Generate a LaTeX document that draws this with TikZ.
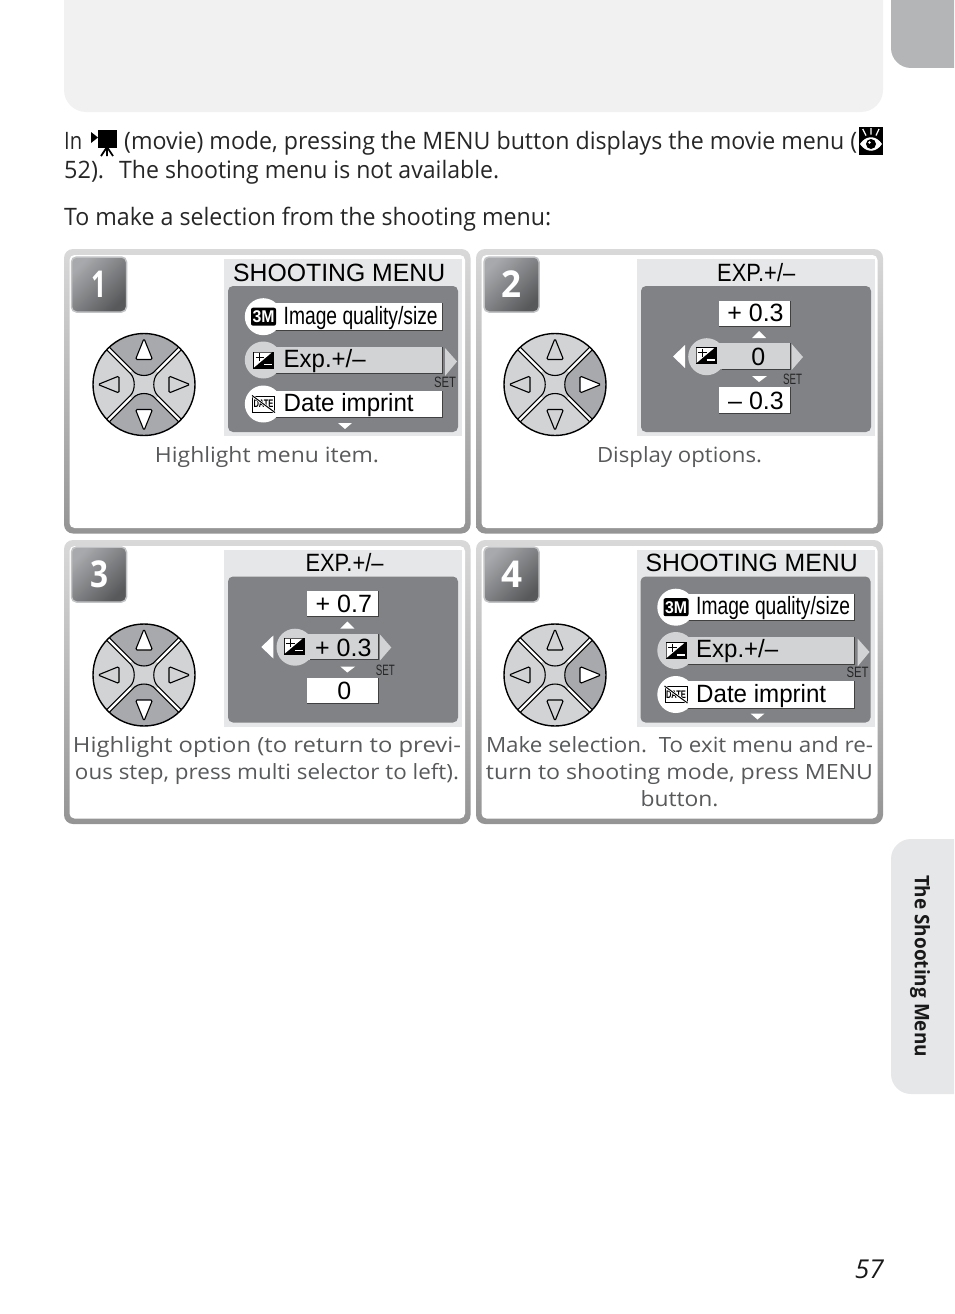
\documentclass[tikz,border=0pt]{standalone}
\usepackage{fontspec}
\setmainfont{Open Sans}
\newfontfamily\menufont{Liberation Sans}
\usetikzlibrary{positioning}

\definecolor{pagegrey}{HTML}{F1F1F2}
\definecolor{tabdark}{HTML}{B3B5B7}
\definecolor{tablight}{HTML}{E6E7E8}
\definecolor{screendark}{HTML}{808285}
\definecolor{barlight}{HTML}{D1D3D4}
\definecolor{btndark}{HTML}{A7A9AC}
\definecolor{captiongrey}{HTML}{58595B}

% width given in px, natural height kept
\newcommand{\fitw}[2]{\resizebox{#1pt}{\height}{#2}}

\tikzset{
    bodytext/.style={inner sep=0pt, anchor=base west, text=black!85, font=\fontsize{24}{28}\selectfont},
    captext/.style={inner sep=0pt, anchor=base, text=captiongrey, font=\fontsize{21}{26}\selectfont},
    menutext/.style={inner sep=0pt, anchor=base west, text=black, font=\menufont\fontsize{25}{28}\selectfont},
    valtext/.style={inner sep=0pt, anchor=base, text=black, font=\menufont\fontsize{25}{28}\selectfont},
    settext/.style={inner sep=0pt, anchor=base, text=black!85, font=\menufont\fontsize{15}{16}\selectfont},
    numbox/.style={rectangle, rounded corners=5pt, draw=btndark!70, line width=1.5pt, minimum size=55pt, inner sep=0pt,
        shading=axis, top color=btndark, bottom color=captiongrey, shading angle=45,
        text=white, font=\fontsize{37}{40}\selectfont\bfseries},
    btnline/.style={draw=black, line width=1.1pt},
    btnhi/.style={fill=btndark},
    btnlo/.style={fill=barlight},
    trihi/.style={fill=white},
    trilo/.style={fill=barlight},
    rowwhite/.style={fill=white},
    rowgrey/.style={fill=barlight},
    shadowline/.style={draw=black!75, line width=.8pt},
}

\newcommand{\panelframe}[4]{
    \shade[top color=black!15, bottom color=black!42, rounded corners=9pt] (#1,#2) rectangle (#3,#4);
    \fill[white, rounded corners=5pt] (#1+5.5,#2+6) rectangle (#3-5.5,#4-5.5);
}

\newcommand{\dpad}[7]{
    \begin{scope}[shift={(#2,#3)}]
        \fill[barlight] (0,0) circle[radius=51pt];
        \begin{scope}
            \clip (0,0) circle[radius=51pt];
            \draw[white, line width=3.4pt] (-13,-13) -- (-50,-50) (13,-13) -- (50,-50) (-13,13) -- (-50,50) (13,13) -- (50,50);
            \foreach \ang/\st/\dep in {0/#4/7.5,90/#5/8.5,180/#6/7.5,270/#7/8.5} {
                \begin{scope}[rotate=\ang]
                    \path[btnline, btn\st] (-50,-52.6) -- (-11,-13.6) .. controls (-6,-\dep) and (6,-\dep) .. (11,-13.6) -- (50,-52.6) -- (0,-90) -- cycle;
                    \path[btnline, tri\st, rounded corners=1.5pt] (0,-46) -- (-8.5,-25) -- (8.5,-25) -- cycle;
                \end{scope}
            }
        \end{scope}
        \draw[black, line width=1.4pt] (0,0) circle[radius=51pt];
    \end{scope}
}

\newcommand{\expicon}[2]{
    \begin{scope}[shift={(#1,#2)}]
        \fill[black] (-10.5,-8.5) rectangle (10.5,8.5);
        \fill[white] (-9.4,-7.4) -- (8.2,-7.4) -- (-9.4,7.4) -- cycle;
        \draw[black, line width=1.4pt] (-8,-2.8) -- (0.5,-2.8) (-3.75,-6.8) -- (-3.75,1.2);
        \draw[white, line width=1.6pt] (0.5,4.6) -- (8.5,4.6);
    \end{scope}
}

\newcommand{\screenbg}[2]{
    \fill[tablight] (#1,#2) rectangle (#1+238,#2+177);
    \fill[screendark, rounded corners=5pt] (#1+4,#2+27) rectangle (#1+234,#2+173);
}

\newcommand{\menurow}[3]{
    \fill[#2] (39,#1-13.5) rectangle (218,#1+13.5);
    \draw[shadowline] (39,#1+13.5) -- (218,#1+13.5) -- (218,#1-13.5);
    \fill[#2] (39.3,#3) circle[radius=18.5pt];
}

\newcommand{\menuscr}[3]{
    \screenbg{#2}{#3}
    \begin{scope}[shift={(#2,#3)}]
        \node[menutext] (title#1) at (9,22) {\fitw{212}{SHOOTING MENU}};
        \menurow{57.5}{rowwhite}{57.7}
        \menurow{101}{rowgrey}{101}
        \menurow{145}{rowwhite}{145}
        \node[fill=black, rounded corners=2pt, minimum width=25pt, minimum height=18pt, inner sep=0pt, text=white,
            font=\menufont\bfseries\fontsize{17}{18}\selectfont] (qual#1) at (39.5,57.7) {\fitw{22}{3M}};
        \expicon{39.5}{101}
        \node[draw=black, fill=white, line width=1pt, minimum width=22pt, minimum height=16pt, inner sep=0pt,
            font=\menufont\bfseries\fontsize{11}{11}\selectfont] (date#1) at (39.5,145) {\fitw{20}{DATE}};
        \draw[white, line width=2.4pt] (date#1.north west) -- (date#1.south east);
        \draw[black, line width=1pt] (date#1.north west) -- (date#1.south east);
        \node[menutext] (item#1a) at (59.5,65) {\fitw{154}{Image quality/size}};
        \node[menutext] (item#1b) at (59.5,108) {\fitw{82}{Exp.+/–}};
        \node[menutext] (item#1c) at (59.5,152.7) {\fitw{130}{Date imprint}};
        \fill[barlight] (221,89) -- (221,117) -- (233,102.5) -- cycle;
        \node[settext] (set#1) at (221,128) {\fitw{22}{SET}};
        \fill[white] (114,164) -- (128,164) -- (121,170) -- cycle;
    \end{scope}
}

\newcommand{\expscr}[8]{
    \begin{scope}[shift={(#2,#3)}]
        \node[menutext] (title#1) at (80,22) {\fitw{78}{EXP.+/–}};
        \fill[white] (82,41.7) rectangle (153,67);
        \draw[shadowline] (82,67) -- (153,67) -- (153,41.7);
        \node[valtext] (upper#1) at (118.5,62.5) {#4};
        \fill[white] (115,79) -- (129,79) -- (122,72) -- cycle;
        \fill[barlight] (69.7,97.7) circle[radius=18.5pt];
        \fill[barlight] (70,84) rectangle (153,110);
        \draw[shadowline] (85,110) -- (153,110) -- (153,84);
        \expicon{69}{96.5}
        \node[valtext] (mid#1) at (#6,106.5) {#5};
        \fill[white] (36,97.5) -- (48,86) -- (48,109) -- cycle;
        \fill[barlight] (154.7,85) -- (154.7,111) -- (166,98) -- cycle;
        \node[settext] (set#1) at (#8,125.5) {\fitw{19}{SET}};
        \fill[white] (115,117) -- (130,117) -- (122,123) -- cycle;
        \fill[white] (82,128.3) rectangle (153,154.3);
        \draw[shadowline] (82,154.3) -- (153,154.3) -- (153,128.3);
        \node[valtext] (lower#1) at (119,150) {#7};
    \end{scope}
}

\begin{document}
\begin{tikzpicture}[x=1pt, y=-1pt]
    \useasboundingbox (0,0) rectangle (954,1314);

    % page decoration
    \fill[pagegrey] (64,0) [rounded corners=22pt] -- (64,112) -- (883,112) [sharp corners] -- (883,0) -- cycle;
    \fill[tabdark] (891,0) [rounded corners=20pt] -- (891,68) [sharp corners] -- (954,68) -- (954,0) -- cycle;
    \fill[tablight] (954,839) [rounded corners=20pt] -- (891,839) -- (891,1094) [sharp corners] -- (954,1094) -- cycle;
    \node[inner sep=0pt, rotate=-90, text=black!90, font=\fontsize{20}{24}\selectfont\bfseries] (tabtext) at (920,966) {\fitw{182}{The Shooting Menu}};
    \node[inner sep=0pt, anchor=base east, text=black!90, font=\fontsize{26}{30}\selectfont\itshape] (pagenum) at (884,1278) {\fitw{29}{57}};

    % intro text
    \node[bodytext] (introa) at (64,149) {\fitw{18}{In}};
    \node[bodytext] (introb) at (124,149) {\fitw{733}{(movie) mode, pressing the MENU button displays the movie menu (}};
    \node[bodytext] (introc) at (64,178.5) {\fitw{40}{52).}};
    \node[bodytext] (introd) at (119,178.5) {\fitw{380}{The shooting menu is not available.}};
    \node[bodytext] (introe) at (64,225) {\fitw{487}{To make a selection from the shooting menu:}};

    % movie icon
    \fill[black] (91,132) -- (98,137.5) -- (91,143) -- cycle;
    \fill[black] (97.7,130) rectangle (117.3,147.7);
    \draw[black, line width=1.8pt] (107,147) -- (101,156) (107,147) -- (107,156) (107,147) -- (113,156);

    % eye icon
    \fill[black] (858.5,127) rectangle (883,155);
    \draw[white, line width=1.2pt] (862.7,129) -- (866,135.5) (871,128) -- (871,134.5) (879,129) -- (876,135.5);
    \fill[white] (860,144) .. controls (866,135) and (876,135) .. (882,144) .. controls (876,153) and (866,153) .. (860,144) -- cycle;
    \fill[black] (871,144) circle[radius=5pt];
    \fill[white] (869.5,142.5) circle[radius=1.3pt];

    % panels
    \panelframe{64}{249}{470.5}{533.5}
    \panelframe{476}{249}{883}{533.5}
    \panelframe{64}{540}{470.5}{824}
    \panelframe{476}{540}{883}{824}

    \node[numbox] (stepa) at (99,284.5) {\fitw{15}{1}};
    \node[numbox] (stepb) at (511.5,284.5) {\fitw{20}{2}};
    \node[numbox] (stepc) at (99,574.5) {\fitw{18}{3}};
    \node[numbox] (stepd) at (511.5,574.5) {\fitw{21}{4}};

    \dpad{a}{144}{384.5}{hi}{lo}{hi}{lo}
    \dpad{b}{555}{384.5}{lo}{lo}{lo}{hi}
    \dpad{c}{144}{675}{hi}{lo}{hi}{lo}
    \dpad{d}{555}{675}{lo}{lo}{lo}{hi}

    \menuscr{a}{224}{259}
    \screenbg{637}{259}
    \expscr{b}{637}{259}{+ 0.3}{0}{121.3}{– 0.3}{155.7}
    \screenbg{224}{549.5}
    \expscr{c}{225.3}{549.5}{+ 0.7}{+ 0.3}{118}{0}{160}
    \menuscr{d}{636.5}{549.5}

    % captions
    \node[captext] (capa) at (267,462) {\fitw{224}{Highlight menu item.}};
    \node[captext] (capb) at (679.5,462) {\fitw{165}{Display options.}};
    \node[captext] (capc) at (267,752) {\fitw{388}{Highlight option (to return to previ-}};
    \node[captext] (capd) at (267,779) {\fitw{384}{ous step, press multi selector to left).}};
    \node[captext] (cape) at (679.5,752) {\fitw{387}{Make selection.\ \ To exit menu and re-}};
    \node[captext] (capf) at (679.5,779) {\fitw{387}{turn to shooting mode, press MENU}};
    \node[captext] (capg) at (679.5,806) {\fitw{78}{button.}};
\end{tikzpicture}
\end{document}
